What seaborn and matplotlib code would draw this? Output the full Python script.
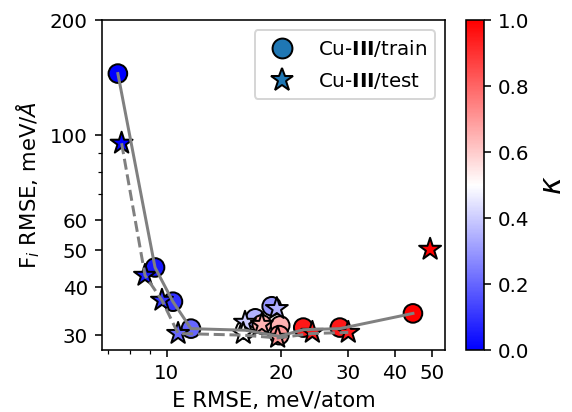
import matplotlib
matplotlib.use("Agg")
import matplotlib.pyplot as plt
import numpy as np
import pandas as pd
import seaborn as sns
from matplotlib.lines import Line2D
from matplotlib.cm import ScalarMappable
from matplotlib.colors import Normalize

# ---- data ----
train_E = [7.42, 9.30, 10.37, 11.57, 16.1, 17.1, 17.8, 18.9, 19.9, 19.8, 22.9, 28.6, 44.6]
train_F = [145.0, 45.1, 36.7, 31.2, 31.0, 33.2, 32.0, 35.7, 31.8, 30.0, 31.4, 31.4, 34.2]
train_k = [0.0, 0.05, 0.1, 0.2, 0.5, 0.35, 0.65, 0.3, 0.65, 0.7, 0.95, 0.95, 1.0]

test_E = [7.59, 8.75, 9.70, 10.7, 16.07, 15.9, 17.8, 19.5, 19.6, 24.2, 30.1, 49.5]
test_F = [95.3, 43.0, 37.0, 30.3, 32.4, 30.3, 32.0, 35.2, 29.6, 30.5, 30.5, 50.3]
test_k = [0.0, 0.05, 0.1, 0.2, 0.4, 0.5, 0.65, 0.35, 0.7, 0.95, 0.95, 1.0]

train_line_E = [7.42, 9.30, 10.37, 11.57, 16.1, 19.8, 22.9, 28.6, 44.6]
train_line_F = [145.0, 45.1, 36.7, 31.2, 30.9, 29.8, 31.0, 31.2, 34.2]
test_line_E = [7.59, 8.75, 9.70, 10.7, 15.9, 19.6, 24.2, 30.1]
test_line_F = [95.3, 43.0, 37.0, 30.3, 30.0, 29.5, 30.3, 30.5]

xticks = [10, 20, 30, 40, 50]
xminor = [7, 8, 9]
yticks = [30, 40, 50, 60, 100, 200]
yminor = [70, 80, 90]
cbar_ticks = [0.0, 0.2, 0.4, 0.6, 0.8, 1.0]

train = pd.DataFrame({"E": train_E, "F": train_F, "k": train_k})
test = pd.DataFrame({"E": test_E, "F": test_F, "k": test_k})

DPI = 143
fig = plt.figure(figsize=(572 / DPI, 412 / DPI), dpi=DPI)
ax = fig.add_axes([0.178, 0.150, 0.600, 0.801])
cax = fig.add_axes([0.815, 0.150, 0.0315, 0.801])

norm = Normalize(0, 1)
sns.scatterplot(data=train, x="E", y="F", hue="k", palette="bwr", hue_norm=(0, 1),
                marker="o", s=88, edgecolor="black", linewidth=1.0, legend=False,
                ax=ax, zorder=2)
sns.scatterplot(data=test, x="E", y="F", hue="k", palette="bwr", hue_norm=(0, 1),
                marker="*", s=135, edgecolor="black", linewidth=1.0, legend=False,
                ax=ax, zorder=2)
ax.plot(train_line_E, train_line_F, color="gray", lw=1.5, ls="-", zorder=3)
ax.plot(test_line_E, test_line_F, color="gray", lw=1.5, ls="--", zorder=3)

ax.set_xscale("log")
ax.set_yscale("log")
ax.set_xlim(6.73, 54.2)
ax.set_ylim(27.4, 200)
ax.set_xticks(xticks)
ax.set_xticklabels([str(t) for t in xticks])
ax.set_xticks(xminor, minor=True)
ax.set_xticklabels([], minor=True)
ax.set_yticks(yticks)
ax.set_yticklabels([str(t) for t in yticks])
ax.set_yticks(yminor, minor=True)
ax.set_yticklabels([], minor=True)
ax.set_xlabel("E RMSE, meV/atom", fontsize=10.7)
ax.set_ylabel(r"F$_i$ RMSE, meV/$\AA$", fontsize=10.7)

handles = [
    Line2D([], [], marker="o", ls="", markerfacecolor="#1f77b4", markeredgecolor="black",
           markersize=10),
    Line2D([], [], marker="*", ls="", markerfacecolor="#1f77b4", markeredgecolor="black",
           markersize=12),
]
ax.legend(handles, [r"Cu-$\mathbf{III}$/train", r"Cu-$\mathbf{III}$/test"],
          loc="upper right", labelspacing=0.6)

sm = ScalarMappable(norm=norm, cmap="bwr")
cb = fig.colorbar(sm, cax=cax)
cb.set_ticks(cbar_ticks)
cb.set_label(r"$\kappa$", fontsize=15)

fig.savefig("out.png", dpi=DPI)
